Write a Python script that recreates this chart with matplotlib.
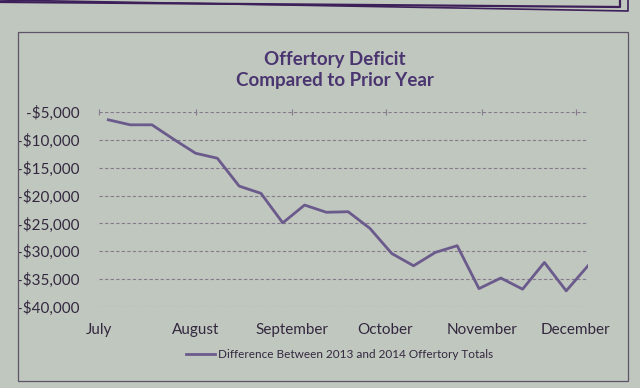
import matplotlib
matplotlib.use("Agg")
import matplotlib.pyplot as plt
from matplotlib.patches import Rectangle
from matplotlib.lines import Line2D
import pandas as pd
from matplotlib.ticker import FuncFormatter

# ---- data ----
dates = ["2014-07-04", "2014-07-11", "2014-07-18", "2014-07-25",
         "2014-08-01", "2014-08-08", "2014-08-15", "2014-08-22", "2014-08-29",
         "2014-09-05", "2014-09-12", "2014-09-19", "2014-09-26",
         "2014-10-03", "2014-10-10", "2014-10-17", "2014-10-24", "2014-10-31",
         "2014-11-07", "2014-11-14", "2014-11-21", "2014-11-28",
         "2014-12-05"]
deficit = [-6400, -7300, -7300, -9900, -12400, -13300, -18300, -19600, -24900,
           -21700, -23000, -22900, -25900, -30400, -32600, -30200, -29000,
           -36700, -34800, -36800, -32000, -37100, -32600]
month_ticks = ["2014-07-01", "2014-08-01", "2014-09-01", "2014-10-01",
               "2014-11-01", "2014-12-01"]
month_labels = ["July", "August", "September", "October", "November", "December"]
y_ticks = [-5000, -10000, -15000, -20000, -25000, -30000, -35000, -40000]
series_name = "Difference Between 2013 and 2014 Offertory Totals"
title = "Offertory Deficit\nCompared to Prior Year"

# ---- style ----
bg = "#c0c7be"
text_col = "#33283f"
line_col = "#6b5a8c"
grid_col = "#857a8c"

plt.rcParams['font.family'] = ['Lato', 'DejaVu Sans']

fig = plt.figure(figsize=(6.4, 3.88), dpi=100, facecolor=bg)
ax = fig.add_axes([99/640, 1 - 307/388, (588-99)/640, (307-112)/388])
ax.set_facecolor(bg)

x = pd.to_datetime(dates)
ax.plot(x, deficit, color=line_col, lw=2.0, solid_joinstyle='round', zorder=3)

ax.set_xlim(pd.Timestamp(month_ticks[0]), x[-1])
ax.set_ylim(min(y_ticks), max(y_ticks))
ax.set_yticks(y_ticks)
ax.yaxis.set_major_formatter(FuncFormatter(lambda v, p: f"-${abs(v):,.0f}"))
ax.set_xticks(pd.to_datetime(month_ticks))
ax.set_xticklabels(month_labels)

for s in ax.spines.values():
    s.set_visible(False)
ax.grid(axis='y', color=grid_col, ls=(0, (3, 2)), lw=0.8)
ax.tick_params(axis='y', length=0, labelsize=11, labelcolor=text_col, pad=14)
ax.tick_params(axis='x', top=True, bottom=False, labeltop=False, labelbottom=True,
               direction='inout', length=5, color=grid_col, labelsize=11,
               labelcolor=text_col, pad=9)

fig.text(0.523, 1 - 70/388, title, ha='center', va='center', fontsize=13.5,
         fontweight='bold', color="#4a3570", linespacing=1.35)

# legend
leg_handle = Line2D([], [], color=line_col, lw=2.0)
fig.legend([leg_handle], [series_name], loc='center', bbox_to_anchor=(0.53, 1 - 355/388),
           frameon=False, fontsize=8.5, labelcolor=text_col, handlelength=2.5,
           handletextpad=0.2)

# chart border
fig.patches.append(Rectangle((18/640, 1 - 381/388), (628-18)/640, (381-32)/388,
                             transform=fig.transFigure, fill=False,
                             edgecolor="#5d5468", lw=0.9))
# page border at top
fig.lines.append(Line2D([0, 620/640, 620/640], [1 - 2/388, 1 - 7/388, 1.0],
                        transform=fig.transFigure, color="#3d1f5a", lw=1.6))
fig.lines.append(Line2D([0, 628/640, 628/640], [1.0, 1 - 11/388, 1.0],
                        transform=fig.transFigure, color="#3d1f5a", lw=1.2))

fig.savefig("out.png", dpi=100, facecolor=bg)
